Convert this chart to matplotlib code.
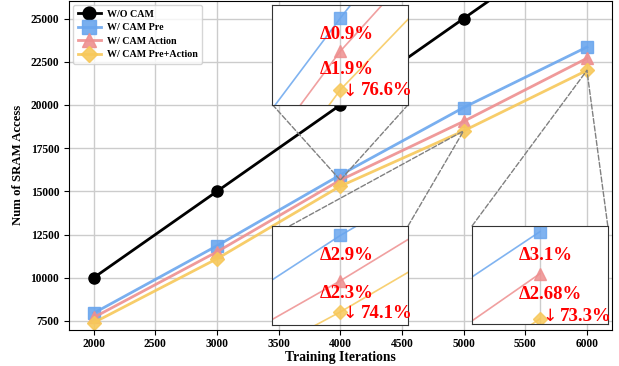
import matplotlib
matplotlib.use('Agg')
import matplotlib.pyplot as plt
from matplotlib.patches import ConnectionPatch
from matplotlib.ticker import MultipleLocator

plt.rcParams['font.family'] = ['Liberation Serif', 'DejaVu Serif']
plt.rcParams['font.weight'] = 'bold'

iterations = [2000, 3000, 4000, 5000, 6000]
wo_cam = [10000, 15000, 20000, 25000, 30000]
cam_pre = [7950, 11850, 15950, 19850, 23350]
cam_action = [7700, 11500, 15650, 19050, 22700]
cam_pre_action = [7400, 11100, 15300, 18500, 22000]

labels = ['W/O CAM', 'W/ CAM Pre', 'W/ CAM Action', 'W/ CAM Pre+Action']
colors = ['black', '#6aa6ee', '#ee8f8f', '#f7c85a']
markers = ['o', 's', '^', 'D']
series = [wo_cam, cam_pre, cam_action, cam_pre_action]

# zoom windows: (center x, ylim, delta texts, reduction text)
zooms = [
    (4000, (15165, 16070), ['\u03940.9%', '\u03941.9%'], '76.6%'),
    (5000, (18270, 20020), ['\u03942.9%', '\u03942.3%'], '74.1%'),
    (6000, (21920, 23440), ['\u03943.1%', '\u03942.68%'], '73.3%'),
]

fig = plt.figure(figsize=(6.19, 3.66), dpi=100)
ax = fig.add_axes([0.1115, 0.0995, 0.8765, 0.897])

for vals, lab, c, m in zip(series, labels, colors, markers):
    ms = 8 if m == 'o' else (7.5 if m == 'D' else 9)
    ax.plot(iterations, vals, color=c, marker=m, markersize=ms, linewidth=2,
            label=lab, alpha=1 if c == 'black' else 0.9)

ax.set_xlim(1800, 6200)
ax.set_ylim(7000, 26000)
ax.xaxis.set_major_locator(MultipleLocator(500))
ax.yaxis.set_major_locator(MultipleLocator(2500))
ax.grid(True, color='#cccccc', linewidth=1)
ax.set_axisbelow(True)
ax.tick_params(labelsize=8.3)
ax.tick_params(axis='x', pad=2.5)
for lbl in ax.get_xticklabels() + ax.get_yticklabels():
    lbl.set_fontweight('bold')
ax.set_xlabel('Training Iterations', fontsize=9.8, fontweight='bold', labelpad=1)
ax.set_ylabel('Num of SRAM Access', fontsize=9.2, fontweight='bold', labelpad=5)
ax.legend(loc='upper left', prop={'weight': 'bold', 'size': 7.2},
          markerscale=1.15, handlelength=2.3, borderpad=0.45, labelspacing=0.45,
          handletextpad=0.6, borderaxespad=0.4)

inset_pos = [[0.375, 0.685, 0.25, 0.304],
             [0.375, 0.014, 0.25, 0.302],
             [0.743, 0.017, 0.25, 0.299]]
targets = [(4000, cam_action[2]), (5000, cam_pre_action[3]), (6000, cam_pre_action[4])]
corners = [[(0, 0), (1, 0)], [(0.128, 1), (1, 1)], [(0, 1), (1, 1)]]
mid_y = [0.35, 0.32, 0.30]
low_y = [0.14, 0.12, 0.08]

for (xc, ylim, deltas, drop), pos, tgt, cs, my, ly in zip(zooms, inset_pos, targets,
                                                         corners, mid_y, low_y):
    axins = ax.inset_axes(pos)
    for vals, c, m in zip(series[1:], colors[1:], markers[1:]):
        ms = 7.5 if m == 'D' else 9
        axins.plot(iterations, vals, color=c, marker=m, markersize=ms,
                   linewidth=1.2, alpha=0.85)
    axins.set_xlim(xc - 200, xc + 200)
    axins.set_ylim(*ylim)
    axins.set_xticks([xc])
    axins.set_yticks([])
    axins.set_xticklabels([])
    axins.tick_params(length=0)
    axins.grid(True, color='#cccccc', linewidth=1)
    for sp in axins.spines.values():
        sp.set_color('#333333')
    axins.text(0.345, 0.70, deltas[0], transform=axins.transAxes, color='red',
               fontsize=13.5, fontweight='bold', va='center', ha='left')
    axins.text(0.345, my, deltas[1], transform=axins.transAxes, color='red',
               fontsize=13.5, fontweight='bold', va='center', ha='left')
    axins.text(0.572, ly, '\u2193', transform=axins.transAxes, color='red',
               fontsize=12.5, fontweight='normal', family='DejaVu Sans',
               va='center', ha='center')
    axins.text(0.65, ly, drop, transform=axins.transAxes, color='red',
               fontsize=13.5, fontweight='bold', va='center', ha='left')
    for corner in cs:
        con = ConnectionPatch(xyA=corner, coordsA=axins.transAxes, xyB=tgt,
                              coordsB=ax.transData, linestyle='--',
                              color='gray', linewidth=1, zorder=3)
        ax.add_artist(con)

fig.savefig('out.png', dpi=100)
